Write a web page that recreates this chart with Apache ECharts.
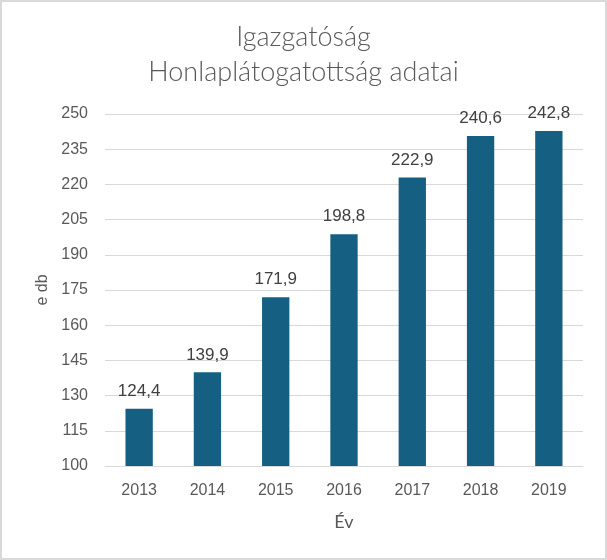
<!DOCTYPE html>
<html><head><meta charset="utf-8">
<script src="https://cdn.jsdelivr.net/npm/echarts@6/dist/echarts.min.js"></script>
<style>html,body{margin:0;padding:0;background:#fff}#c{width:607px;height:560px;box-sizing:border-box;border:2px solid #d9d9d9}</style>
</head><body><div id="c"></div>
<script>
const categories = ['2013','2014','2015','2016','2017','2018','2019'];
const values = [124.4, 139.9, 171.9, 198.8, 222.9, 240.6, 242.8];
const titleLines = ['Igazgatóság', 'Honlaplátogatottság adatai'];
const yName = 'e db';
const xName = 'Év';
const chart = echarts.init(document.getElementById('c'));
const tfont = 'Lato, "Open Sans", sans-serif';
const font = '"Liberation Sans", Arial, sans-serif';
chart.setOption({
  title: {text: titleLines.join('\n'), left: 'center', top: 13,
    textStyle: {fontFamily: tfont, fontWeight: 300, fontSize: 27, color: '#595959', lineHeight: 35}},
  grid: {left: 103, right: 22, top: 112, bottom: 92},
  xAxis: {type: 'category', data: categories, name: xName, nameLocation: 'middle', nameGap: 47,
    nameTextStyle: {fontFamily: tfont, fontSize: 18, color: '#595959'},
    axisLine: {lineStyle: {color: '#d9d9d9', width: 1}}, axisTick: {show: false},
    axisLabel: {fontFamily: font, fontSize: 16, color: '#595959', margin: 17}},
  yAxis: {type: 'value', min: 100, max: 250, interval: 15, name: yName, nameLocation: 'middle', nameGap: 52,
    nameTextStyle: {fontFamily: font, fontSize: 16, color: '#595959'},
    axisLine: {show: false}, axisTick: {show: false},
    axisLabel: {fontFamily: font, fontSize: 16, color: '#595959', margin: 17},
    splitLine: {lineStyle: {color: '#d9d9d9', width: 1}}},
  series: [{type: 'bar', data: values, barWidth: '40%', itemStyle: {color: '#156082'},
    label: {show: true, position: 'top', distance: 9, fontFamily: font, fontSize: 17, color: '#404040',
      formatter: p => String(p.value).replace('.', ',')}}],
  animation: false
});
</script></body></html>
